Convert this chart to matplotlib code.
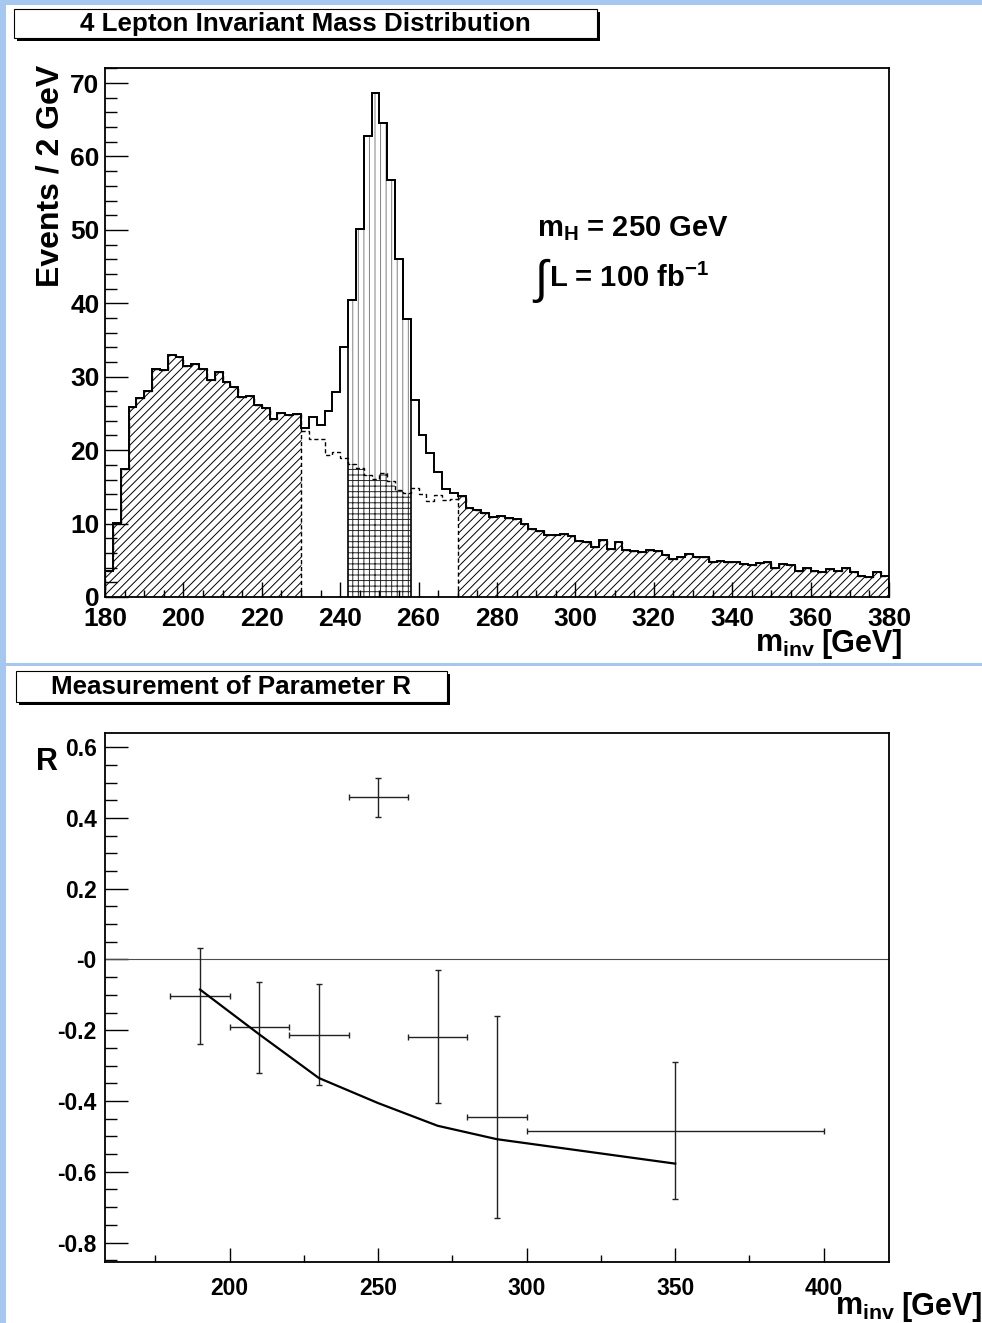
import numpy as np
import matplotlib
matplotlib.use('Agg')
import matplotlib.pyplot as plt
from matplotlib.patches import Rectangle
from matplotlib.ticker import MultipleLocator, FixedLocator, FixedFormatter

plt.rcParams['font.family'] = ['Liberation Sans', 'DejaVu Sans']
plt.rcParams['font.weight'] = 'bold'
plt.rcParams['mathtext.default'] = 'regular'
plt.rcParams['hatch.linewidth'] = 0.7

# ---- 4 lepton invariant mass, 2 GeV bins from 180 to 380 ----
m_lo, m_hi, m_bin = 180, 380, 2
total = [3.6, 10.1, 17.5, 25.9, 27.1, 28.1, 31.0, 30.9, 32.9, 32.7,
         31.4, 31.8, 31.0, 29.6, 30.7, 29.3, 28.6, 27.2, 27.4, 26.1,
         25.7, 24.2, 25.0, 24.8, 24.9, 23.0, 24.5, 23.4, 25.3, 27.9,
         34.0, 40.5, 50.1, 62.8, 68.6, 64.5, 56.8, 46.1, 37.8, 26.8,
         22.1, 19.6, 17.0, 14.7, 14.1, 13.7, 12.1, 11.9, 11.5, 10.9,
         11.1, 10.8, 10.6, 10.0, 9.2, 9.0, 8.4, 8.5, 8.6, 8.3,
         7.6, 7.5, 6.8, 7.7, 6.5, 7.5, 6.4, 6.2, 6.1, 6.4,
         6.3, 5.7, 5.2, 5.4, 5.8, 5.4, 5.4, 4.7, 4.9, 4.8,
         4.8, 4.5, 4.3, 4.6, 4.8, 4.0, 4.5, 4.4, 3.6, 4.0,
         3.5, 3.4, 3.8, 3.6, 3.9, 3.4, 2.85, 2.75, 3.4, 2.8]
# background only, shown between the side bands (230 - 270 GeV)
bg_lo, bg_hi = 230, 270
background = [22.6, 21.5, 21.5, 19.4, 19.8, 18.9, 18.1, 17.6, 16.6, 16.1,
              16.9, 15.8, 14.6, 14.1, 14.8, 14.0, 13.1, 13.9, 13.2, 13.3]
side_bands = [(180, 230), (270, 380)]
signal_window = (242, 258)
mass_text = 'm$_{H}$ = 250 GeV'
lumi_text = 'L = 100 fb$^{-1}$'

# ---- measurement of R ----
r_x = [190, 210, 230, 250, 270, 290, 350]
r_xerr = [10, 10, 10, 10, 10, 10, 50]
r_y = [-0.104, -0.192, -0.213, 0.459, -0.218, -0.446, -0.484]
r_yerr = [0.135, 0.129, 0.143, 0.055, 0.187, 0.286, 0.194]
pred_x = [190, 210, 230, 250, 270, 290, 350]
pred_y = [-0.085, -0.212, -0.335, -0.406, -0.470, -0.508, -0.577]
r_ticks = [-0.8, -0.6, -0.4, -0.2, 0.0, 0.2, 0.4, 0.6]
r_ticklabels = ['-0.8', '-0.6', '-0.4', '-0.2', '-0', '0.2', '0.4', '0.6']

W, H = 982, 1323
fig = plt.figure(figsize=(W / 100, H / 100), dpi=100)
fig.patch.set_facecolor('white')


def px_axes(left, top, right, bottom):
    ax = fig.add_axes([left / W, 1 - bottom / H, (right - left) / W, (bottom - top) / H])
    ax.set_facecolor('none')  # let the overlay texts show through
    return ax


# overlay in pixel coordinates for the frame decoration and titles
deco = fig.add_axes([0, 0, 1, 1], zorder=-1)
deco.set_xlim(0, W)
deco.set_ylim(H, 0)
deco.axis('off')
strip = '#a6c8f0'
deco.add_patch(Rectangle((0, 0), 6, H, color=strip, lw=0))
deco.add_patch(Rectangle((0, 0), W, 5, color=strip, lw=0))
deco.add_patch(Rectangle((6, 663), W, 3, color=strip, lw=0))


def title_box(x0, y0, x1, y1, text):
    deco.add_patch(Rectangle((x0 + 3, y0 + 3), x1 - x0, y1 - y0, color='black', lw=0))
    deco.add_patch(Rectangle((x0, y0), x1 - x0, y1 - y0, facecolor='white',
                             edgecolor='black', lw=0.8))
    deco.text((x0 + x1) / 2, (y0 + y1) / 2 + 1, text, ha='center', va='center',
              fontsize=18.7, fontweight='bold')


title_box(14, 9, 597, 38, '4 Lepton Invariant Mass Distribution')
title_box(16, 671, 447, 702, 'Measurement of Parameter R')


def style_axes(ax, size):
    for s in ax.spines.values():
        s.set_linewidth(1.3)
    ax.tick_params(which='both', direction='in', top=False, right=False, width=1.0,
                   labelsize=size)
    for lab in ax.get_xticklabels() + ax.get_yticklabels():
        lab.set_fontweight('bold')


def axis_title(x_right, baseline, size):
    # "m_inv" and "[GeV]" as two pieces so the unit sits flush right
    r = fig.canvas.get_renderer()
    unit = deco.text(x_right, baseline, '[GeV]', ha='right', va='baseline',
                     fontsize=size, fontweight='bold')
    w = unit.get_window_extent(renderer=r).width
    deco.text(x_right - w - 6, baseline, 'm$_{inv}$', ha='right', va='baseline',
              fontsize=size, fontweight='bold')


# ---------------- top: histogram ----------------
ax1 = px_axes(105, 68, 889, 597)
edges = np.arange(m_lo, m_hi + m_bin, m_bin)
tot = np.array(total)
bg_edges = np.arange(bg_lo, bg_hi + m_bin, m_bin)
bg = np.array(background)

for lo, hi in side_bands:
    sel = (edges[:-1] >= lo) & (edges[:-1] < hi)
    e = edges[(edges >= lo) & (edges <= hi)]
    ax1.stairs(tot[sel], e, fill=True, hatch='////', facecolor='none',
               edgecolor='black', lw=1.0, ls=(0, (3, 2)))

s_lo, s_hi = signal_window
sel = (edges[:-1] >= s_lo) & (edges[:-1] < s_hi)
e_sig = edges[(edges >= s_lo) & (edges <= s_hi)]
ax1.stairs(tot[sel], e_sig, fill=True, hatch='|||', facecolor='none', edgecolor='0.5', lw=0)
bsel = (bg_edges[:-1] >= s_lo) & (bg_edges[:-1] < s_hi)
ax1.stairs(bg[bsel], e_sig, fill=True, hatch='+++', facecolor='white', edgecolor='0.15', lw=0)
ax1.stairs(tot[sel], e_sig, fill=True, facecolor='none', edgecolor='black', lw=1.2)

ax1.stairs(bg, bg_edges, baseline=None, color='black', lw=1.0, ls=(0, (3, 2)))
ax1.stairs(tot, edges, color='black', lw=1.4)

ax1.set_xlim(m_lo, m_hi)
ax1.set_ylim(0, 72.05)
ax1.xaxis.set_major_locator(MultipleLocator(20))
ax1.xaxis.set_minor_locator(MultipleLocator(5))
ax1.yaxis.set_major_locator(MultipleLocator(10))
ax1.yaxis.set_minor_locator(MultipleLocator(2))
style_axes(ax1, 19)
ax1.tick_params(axis='x', which='major', length=11, pad=7.5)
ax1.tick_params(axis='x', which='minor', length=5.3)
ax1.tick_params(axis='y', which='major', length=16.5, pad=4)
ax1.tick_params(axis='y', which='minor', length=8.5)

deco.text(51, 65, 'Events / 2 GeV', rotation=90, ha='center', va='top',
          fontsize=23, fontweight='bold')
axis_title(903, 652, 22)
deco.text(537, 236, mass_text, ha='left', va='baseline', fontsize=21, fontweight='bold')
deco.text(534, 293, '\u222b', ha='left', va='baseline', fontsize=34, fontweight='normal')
deco.text(549, 287, lumi_text, ha='left', va='baseline', fontsize=21, fontweight='bold')

# ---------------- bottom: R measurement ----------------
ax2 = px_axes(105, 733, 889, 1262)
ax2.axhline(0, color='0.3', lw=0.8)
ax2.errorbar(r_x, r_y, xerr=r_xerr, yerr=r_yerr, fmt='none', ecolor='#222222',
             elinewidth=1.0, capsize=2, capthick=1.0)
ax2.plot(pred_x, pred_y, color='black', lw=1.6)

ax2.set_xlim(158, 422)
ax2.set_ylim(-0.855, 0.64)
ax2.xaxis.set_major_locator(MultipleLocator(50))
ax2.xaxis.set_minor_locator(MultipleLocator(25))
ax2.yaxis.set_major_locator(FixedLocator(r_ticks))
ax2.yaxis.set_major_formatter(FixedFormatter(r_ticklabels))
ax2.yaxis.set_minor_locator(MultipleLocator(0.05))
style_axes(ax2, 16.5)
ax2.tick_params(axis='x', which='major', length=10, pad=11)
ax2.tick_params(axis='x', which='minor', length=5)
ax2.tick_params(axis='y', which='major', length=16.5, pad=6)
ax2.tick_params(axis='y', which='minor', length=8.5)

deco.text(36, 770, 'R', ha='left', va='baseline', fontsize=22, fontweight='bold')
axis_title(983, 1315, 22)

fig.savefig('out.png', dpi=100)
